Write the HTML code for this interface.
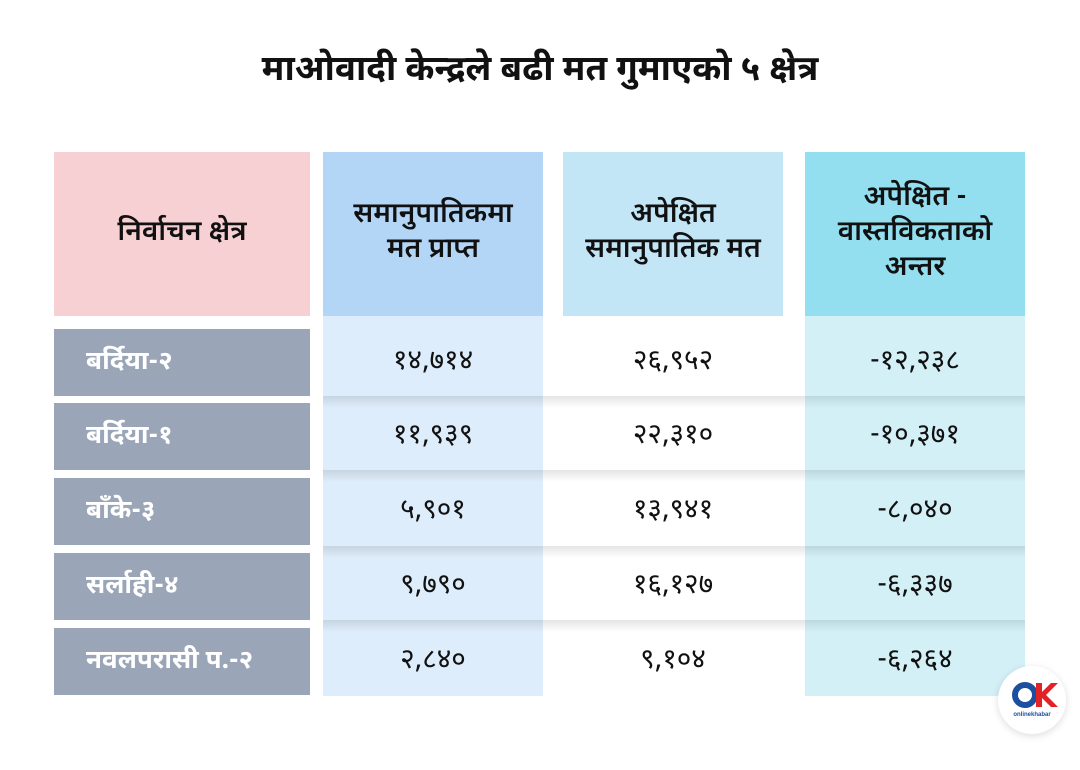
<!DOCTYPE html>
<html><head><meta charset="utf-8"><style>
body{margin:0;width:1080px;height:770px;background:#fff;position:relative;overflow:hidden;font-family:"Noto Sans Devanagari","Lohit Devanagari","Liberation Sans",sans-serif;}
.a{position:absolute;box-sizing:border-box;display:flex;align-items:center;justify-content:center;text-align:center;}
h1{position:absolute;top:50px;left:0;width:1080px;text-align:center;margin:0;font-size:35px;font-weight:bold;color:#111;}
.h{font-size:28px;color:#111;line-height:1.25;font-weight:600;}
.l{background:#9aa6b8;color:#fff;font-size:26px;justify-content:flex-start;padding-left:32px;font-weight:bold;}
.n{font-size:28px;color:#111;}
.sep{position:absolute;left:323px;width:702px;height:12px;background:linear-gradient(#0000001a,#0000);}
</style></head><body>
<h1>माओवादी केन्द्रले बढी मत गुमाएको ५ क्षेत्र</h1>
<div class="a h" style="left:54px;top:152px;width:256px;height:164px;background:#f7d0d4">निर्वाचन क्षेत्र</div>
<div class="a h" style="left:323px;top:152px;width:220px;height:164px;background:#b3d6f6">समानुपातिकमा<br>मत प्राप्त</div>
<div class="a h" style="left:563px;top:152px;width:220px;height:164px;background:#c3e6f7">अपेक्षित<br>समानुपातिक मत</div>
<div class="a h" style="left:805px;top:152px;width:220px;height:164px;background:#93deef">अपेक्षित -<br>वास्तविकताको<br>अन्तर</div>
<div style="position:absolute;left:323px;top:316px;width:220px;height:380px;background:#deedfb"></div>
<div style="position:absolute;left:805px;top:316px;width:220px;height:380px;background:#d3f0f7"></div>
<div class="sep" style="top:396px"></div><div class="sep" style="top:470px"></div><div class="sep" style="top:546px"></div><div class="sep" style="top:620px"></div>

<div class="a l" style="left:54px;top:329px;width:256px;height:67px">बर्दिया-२</div>
<div class="a l" style="left:54px;top:403px;width:256px;height:67px">बर्दिया-१</div>
<div class="a l" style="left:54px;top:478px;width:256px;height:67px">बाँके-३</div>
<div class="a l" style="left:54px;top:553px;width:256px;height:67px">सर्लाही-४</div>
<div class="a l" style="left:54px;top:628px;width:256px;height:67px">नवलपरासी प.-२</div>

<div class="a n" style="left:323px;top:329px;width:220px;height:67px">१४,७१४</div>
<div class="a n" style="left:563px;top:329px;width:220px;height:67px">२६,९५२</div>
<div class="a n" style="left:805px;top:329px;width:220px;height:67px">-१२,२३८</div>
<div class="a n" style="left:323px;top:403px;width:220px;height:67px">११,९३९</div>
<div class="a n" style="left:563px;top:403px;width:220px;height:67px">२२,३१०</div>
<div class="a n" style="left:805px;top:403px;width:220px;height:67px">-१०,३७१</div>
<div class="a n" style="left:323px;top:478px;width:220px;height:67px">५,९०१</div>
<div class="a n" style="left:563px;top:478px;width:220px;height:67px">१३,९४१</div>
<div class="a n" style="left:805px;top:478px;width:220px;height:67px">-८,०४०</div>
<div class="a n" style="left:323px;top:553px;width:220px;height:67px">९,७९०</div>
<div class="a n" style="left:563px;top:553px;width:220px;height:67px">१६,१२७</div>
<div class="a n" style="left:805px;top:553px;width:220px;height:67px">-६,३३७</div>
<div class="a n" style="left:323px;top:628px;width:220px;height:67px">२,८४०</div>
<div class="a n" style="left:563px;top:628px;width:220px;height:67px">९,१०४</div>
<div class="a n" style="left:805px;top:628px;width:220px;height:67px">-६,२६४</div>

<div style="position:absolute;left:998px;top:666px;width:68px;height:68px;border-radius:50%;background:#fff;box-shadow:0 2px 8px #0002"></div>
<svg style="position:absolute;left:998px;top:666px" width="68" height="68">
<circle cx="27" cy="29" r="10" fill="none" stroke="#1d4fa0" stroke-width="6"/>
<path d="M38 17h6v9l9-9h7l-12 12 12 12h-7l-9-9v9h-6z" fill="#e32227"/>
<text x="34" y="50" font-size="6" text-anchor="middle" fill="#1d4fa0" font-family="Liberation Sans" font-weight="bold">onlinekhabar</text>
</svg>
</body></html>
